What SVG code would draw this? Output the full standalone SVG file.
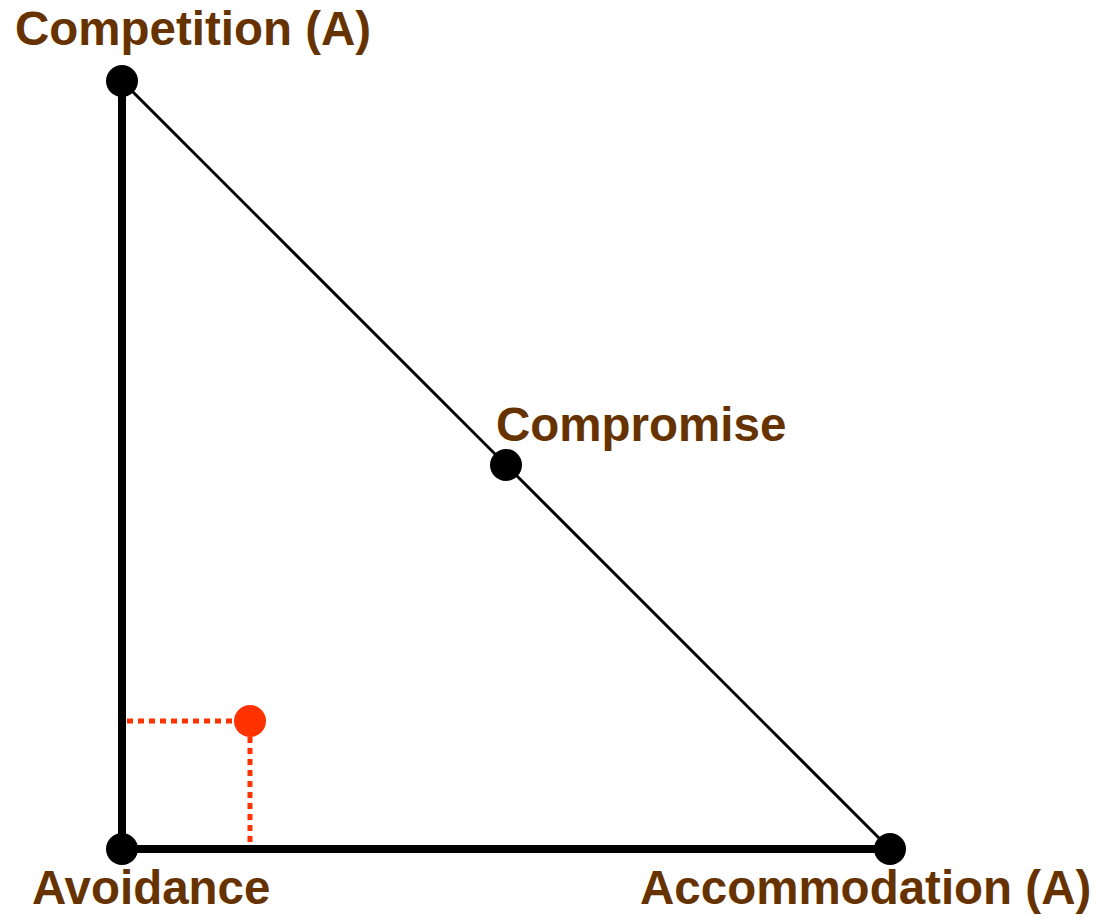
<svg xmlns="http://www.w3.org/2000/svg" width="1096" height="917" viewBox="0 0 1096 917">
<style>
.lbl{font-family:"Liberation Sans",Arial,sans-serif;font-weight:bold;font-size:47.5px;fill:#663300}
.dot{fill:#000}
.thick{stroke:#000;stroke-width:8;fill:none}
.thin{stroke:#000;stroke-width:3;fill:none}
.dash{stroke:#ff3300;stroke-width:5;stroke-dasharray:6 5;fill:none}
</style>
<rect width="1096" height="917" fill="#fff"/>
<g id="connectors">
<line class="thick" x1="122" y1="81" x2="122" y2="850"/>
<line class="thick" x1="122" y1="849" x2="890" y2="849"/>
<line class="thin" x1="122" y1="81" x2="890" y2="849"/>
<line class="dash" x1="127" y1="721" x2="240" y2="721"/>
<line class="dash" x1="250" y1="737" x2="250" y2="846"/>
</g>
<g id="competition">
<circle class="dot" cx="122" cy="81" r="16"/>
<text class="lbl" x="15" y="45">Competition (A)</text>
</g>
<g id="compromise">
<circle class="dot" cx="506" cy="465" r="16"/>
<text class="lbl" x="496" y="441">Compromise</text>
</g>
<g id="avoidance">
<circle class="dot" cx="122" cy="849" r="16"/>
<text class="lbl" x="32" y="904">Avoidance</text>
</g>
<g id="accommodation">
<circle class="dot" cx="890" cy="849" r="16"/>
<text class="lbl" x="640" y="904">Accommodation (A)</text>
</g>
<g id="point">
<circle cx="250" cy="721" r="16" fill="#ff3300"/>
</g>
</svg>
